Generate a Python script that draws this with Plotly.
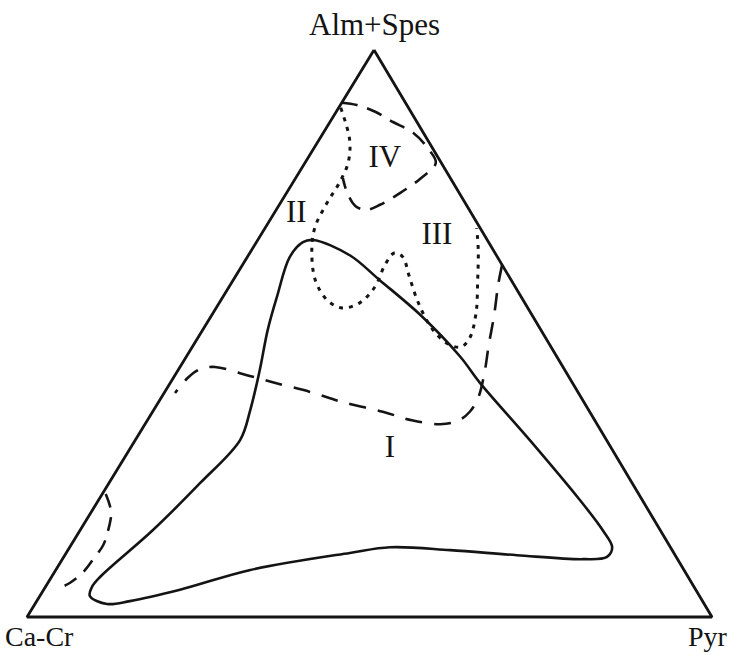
import plotly.graph_objects as go

# Ternary garnet classification diagram.
# Each field boundary is given as Alm+Spes and Pyr contents (mol %);
# the Ca-Cr component is the remainder to 100 %.

VERTEX_LABELS = ["Alm+Spes", "Ca-Cr", "Pyr"]

# Field I - solid closed outline
field1_alm = [66.5, 63.8, 59.4, 53.3, 45.9, 41.3, 31.2, 20.6, 15.3, 12.3, 10.6, 10.2,
              10.9, 11.8, 12.3, 11.3, 8.3, 4.8, 2.8, 2.3, 3.7, 5.3, 7.1, 15.3, 23.6,
              31.2, 36.5, 43.6, 50.6, 56.4, 63.5, 66.1, 66.5]
field1_pyr = [8.1, 14.8, 21.4, 30.4, 40.0, 45.2, 57.6, 70.3, 76.3, 79.2, 79.3, 76.0,
              66.0, 55.8, 46.8, 41.4, 28.4, 19.9, 13.6, 10.5, 7.3, 6.8, 7.1, 10.6, 13.3,
              15.3, 14.1, 11.9, 9.5, 7.9, 6.2, 6.8, 8.1]

# Fields II / III - dotted boundary
field23_alm = [89.8, 84.1, 80.1, 76.7, 73.0, 68.8, 64.7, 59.4, 55.9, 54.5, 55.4, 58.2,
               62.1, 64.2, 63.5, 60.3, 55.6, 51.1, 48.3, 47.6, 49.2, 53.6, 59.4, 64.7, 68.6]
field23_pyr = [0.3, 4.5, 6.3, 6.8, 6.8, 7.2, 8.8, 12.0, 15.5, 18.4, 20.5, 21.3,
               20.8, 21.1, 22.7, 25.2, 28.9, 33.1, 36.8, 39.2, 39.7, 38.4, 35.7, 33.1, 30.9]

# Field IV - dashed boundary
field4_alm = [90.7, 90.3, 89.1, 87.3, 85.4, 82.7, 80.1, 77.4, 74.8, 72.7, 71.8, 72.5, 75.0, 77.4]
field4_pyr = [0.0, 2.4, 5.7, 9.2, 13.1, 16.6, 19.1, 18.3, 16.6, 14.7, 13.1, 11.2, 8.7, 6.9]

# Upper limit of field I - dashed boundary
limit1_alm = [62.1, 58.6, 53.3, 48.0, 42.7, 38.6, 36.2, 34.6, 34.0, 34.7, 36.2, 37.9,
              39.7, 41.4, 43.0, 44.1, 43.7, 42.2, 39.5]
limit1_pyr = [37.9, 39.1, 41.2, 43.1, 45.1, 46.3, 46.3, 45.4, 43.1, 38.6, 33.6, 26.9,
              21.2, 14.9, 9.3, 5.1, 3.1, 2.1, 1.6]

# Ca-Cr rich corner - dashed boundary
corner_alm = [21.7, 18.5, 15.3, 12.7, 10.1, 7.9, 6.0, 4.8]
corner_pyr = [0.5, 2.9, 4.1, 4.7, 4.5, 4.2, 3.2, 1.7]

# Field names and their positions (Alm+Spes %, Pyr %)
FIELD_NAMES = ["I", "II", "III", "IV"]
field_name_alm = [29.6, 71.1, 67.2, 80.8]
field_name_pyr = [38.0, 3.3, 25.8, 11.3]

# Triangle corners (Alm+Spes %, Pyr %)
corner_pts_alm = [100, 0, 0, 100]
corner_pts_pyr = [0, 0, 100, 0]

APEX_X = 0.5066  # horizontal position of the Alm+Spes apex along the base
INK = "#141414"
SERIF = "Liberation Serif, Times New Roman, serif"


def project(alm, pyr):
    """Ternary (Alm+Spes, Pyr) percentages -> cartesian plotting coordinates."""
    xs = [p / 100 + a / 100 * APEX_X for a, p in zip(alm, pyr)]
    ys = [a / 100 for a in alm]
    return xs, ys


def curve(alm, pyr, dash, width=2.6):
    x, y = project(alm, pyr)
    return go.Scatter(
        x=x, y=y, mode="lines",
        line=dict(color=INK, width=width, dash=dash, shape="spline", smoothing=1.0),
        hoverinfo="skip", showlegend=False,
    )


fig = go.Figure()

tx, ty = project(corner_pts_alm, corner_pts_pyr)
fig.add_trace(go.Scatter(x=tx, y=ty, mode="lines",
                         line=dict(color=INK, width=2.8), hoverinfo="skip",
                         showlegend=False))

fig.add_trace(curve(field1_alm, field1_pyr, "solid"))
fig.add_trace(curve(field23_alm, field23_pyr, "4px,6px", width=3.0))
fig.add_trace(curve(field4_alm, field4_pyr, "16px,10px"))
fig.add_trace(curve(limit1_alm, limit1_pyr, "17px,12px"))
fig.add_trace(curve(corner_alm, corner_pyr, "14px,10px"))

nx, ny = project(field_name_alm, field_name_pyr)
fig.add_trace(go.Scatter(x=nx, y=ny, mode="text", text=FIELD_NAMES,
                         textposition="middle center",
                         textfont=dict(family=SERIF, size=31, color=INK),
                         hoverinfo="skip", showlegend=False))

# Vertex labels
fig.add_annotation(x=APEX_X, y=1, xref="x", yref="y", text=VERTEX_LABELS[0],
                   showarrow=False, xanchor="center", yanchor="bottom", yshift=6,
                   font=dict(family=SERIF, size=31, color=INK))
fig.add_annotation(x=0, y=0, xref="x", yref="y", text=VERTEX_LABELS[1],
                   showarrow=False, xanchor="left", yanchor="middle", xshift=-24, yshift=-19,
                   font=dict(family=SERIF, size=28, color=INK))
fig.add_annotation(x=1, y=0, xref="x", yref="y", text=VERTEX_LABELS[2],
                   showarrow=False, xanchor="right", yanchor="middle", xshift=18, yshift=-19,
                   font=dict(family=SERIF, size=28, color=INK))

fig.update_layout(
    width=733, height=655,
    margin=dict(l=0, r=0, t=0, b=0),
    paper_bgcolor="white", plot_bgcolor="white",
    xaxis=dict(range=[-0.03942, 1.03066], visible=False, fixedrange=True),
    yaxis=dict(range=[-0.06702, 1.08818], visible=False, fixedrange=True),
)

fig.write_html("out.html")
